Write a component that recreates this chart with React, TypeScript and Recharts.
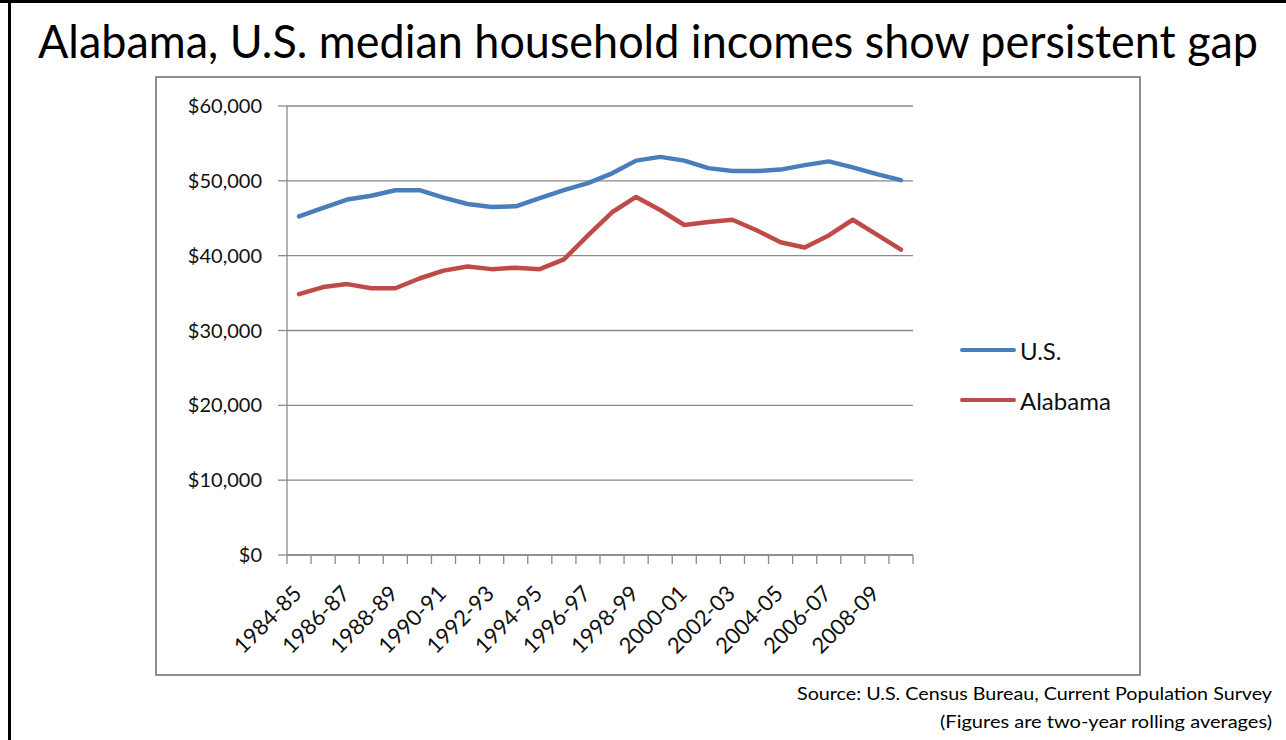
import { CartesianGrid, Line, LineChart, XAxis, YAxis } from 'recharts';

const periods = [
  '1984-85', '1985-86', '1986-87', '1987-88', '1988-89', '1989-90', '1990-91', '1991-92', '1992-93',
  '1993-94', '1994-95', '1995-96', '1996-97', '1997-98', '1998-99', '1999-00', '2000-01', '2001-02',
  '2002-03', '2003-04', '2004-05', '2005-06', '2006-07', '2007-08', '2008-09', '2009-10',
];

const usIncome = [
  45250, 46400, 47500, 48000, 48750, 48750, 47750, 46900, 46500, 46600, 47700, 48750, 49700,
  51000, 52700, 53200, 52700, 51700, 51300, 51300, 51500, 52100, 52600, 51800, 50900, 50100,
];

const alabamaIncome = [
  34850, 35800, 36200, 35650, 35650, 36950, 38000, 38550, 38200, 38400, 38200, 39500, 42700,
  45800, 47850, 46100, 44100, 44500, 44800, 43400, 41800, 41100, 42700, 44800, 42800, 40800,
];

const yTicks = [0, 10000, 20000, 30000, 40000, 50000, 60000];

const FONT = "Lato, 'Open Sans', sans-serif";
const GRID = '#8a8a8a';
const BLUE = '#4a7ebb';
const RED = '#be4b48';

const series = [
  { key: 'us', name: 'U.S.', color: BLUE },
  { key: 'alabama', name: 'Alabama', color: RED },
];

const chartData = periods.map((period, i) => ({
  period,
  us: usIncome[i],
  alabama: alabamaIncome[i],
}));

// plot area in page pixels
const PLOT_LEFT = 287;
const PLOT_RIGHT = 913;
const PLOT_W = PLOT_RIGHT - PLOT_LEFT;
const STEP = PLOT_W / periods.length;

const formatDollars = (value: number) => `$${value.toLocaleString('en-US')}`;

const PeriodTick = (props: any) => {
  const { x, y, payload, index } = props;
  const isLast = index === periods.length - 1;
  const ax = x + 4;
  const ay = y + 40;
  return (
    <g>
      <line x1={x - STEP / 2} x2={x - STEP / 2} y1={y} y2={y + 9} stroke={GRID} strokeWidth={1.3} />
      {isLast && <line x1={x + STEP / 2} x2={x + STEP / 2} y1={y} y2={y + 9} stroke={GRID} strokeWidth={1.3} />}
      {index % 2 === 0 && (
        <text
          x={ax}
          y={ay}
          transform={`rotate(-45 ${ax} ${ay})`}
          textAnchor="end"
          fontFamily={FONT}
          fontSize={22}
          fill="#111"
        >
          {payload.value}
        </text>
      )}
    </g>
  );
};

const App = () => {
  return (
    <div style={{ position: 'absolute', left: 0, top: 0, width: 1286, height: 740, background: '#fff', overflow: 'hidden' }}>
      <div style={{ position: 'absolute', left: 0, top: 0, width: 1286, height: 3, background: '#000' }} />
      <div style={{ position: 'absolute', left: 8, top: 0, width: 3, height: 740, background: '#000' }} />
      <div
        style={{
          position: 'absolute',
          left: 155,
          top: 76,
          width: 986,
          height: 600,
          border: '2px solid #8e8e8e',
          boxSizing: 'border-box',
        }}
      />
      <div style={{ position: 'absolute', left: 0, top: 0 }}>
        <LineChart width={1286} height={740} data={chartData} margin={{ top: 106, right: 1286 - PLOT_RIGHT, bottom: 105, left: 150 }}>
          <CartesianGrid vertical={false} stroke={GRID} strokeWidth={1.3} />
          <XAxis
            dataKey="period"
            interval={0}
            padding={{ left: STEP / 2, right: STEP / 2 }}
            height={80}
            tickLine={false}
            tickSize={0}
            tickMargin={0}
            axisLine={{ stroke: GRID, strokeWidth: 1.3 }}
            tick={<PeriodTick />}
          />
          <YAxis
            width={PLOT_LEFT - 150}
            domain={[0, 60000]}
            ticks={yTicks}
            tickFormatter={formatDollars}
            tickSize={9}
            tickMargin={16}
            tickLine={{ stroke: GRID, strokeWidth: 1.3 }}
            axisLine={{ stroke: GRID, strokeWidth: 1.3 }}
            tick={{ fontFamily: FONT, fontSize: 20, fill: '#111' }}
          />
          {series.map((s) => (
            <Line
              key={s.key}
              type="linear"
              dataKey={s.key}
              name={s.name}
              stroke={s.color}
              strokeWidth={4.5}
              strokeLinejoin="round"
              strokeLinecap="round"
              dot={false}
              isAnimationActive={false}
            />
          ))}
        </LineChart>
      </div>
      <div style={{ position: 'absolute', left: 960, top: 325, fontFamily: FONT, fontSize: 24, color: '#111' }}>
        {series.map((s) => (
          <div key={s.key} style={{ display: 'flex', alignItems: 'center', height: 50 }}>
            <span style={{ width: 56, height: 4.5, background: s.color, borderRadius: 2, marginRight: 4 }} />
            <span>{s.name}</span>
          </div>
        ))}
      </div>
      <svg width={1286} height={740} style={{ position: 'absolute', left: 0, top: 0, pointerEvents: 'none' }}>
        <text x={38} y={58} fontFamily={FONT} fontSize={46} fill="#000" textLength={1220} lengthAdjust="spacingAndGlyphs">
          Alabama, U.S. median household incomes show persistent gap
        </text>
        <text x={1272} y={700} textAnchor="end" fontFamily={FONT} fontSize={18} fill="#000" textLength={475} lengthAdjust="spacingAndGlyphs">
          Source: U.S. Census Bureau, Current Population Survey
        </text>
        <text x={1272} y={728} textAnchor="end" fontFamily={FONT} fontSize={18} fill="#000" textLength={332} lengthAdjust="spacingAndGlyphs">
          (Figures are two-year rolling averages)
        </text>
      </svg>
    </div>
  );
};

export default App;
